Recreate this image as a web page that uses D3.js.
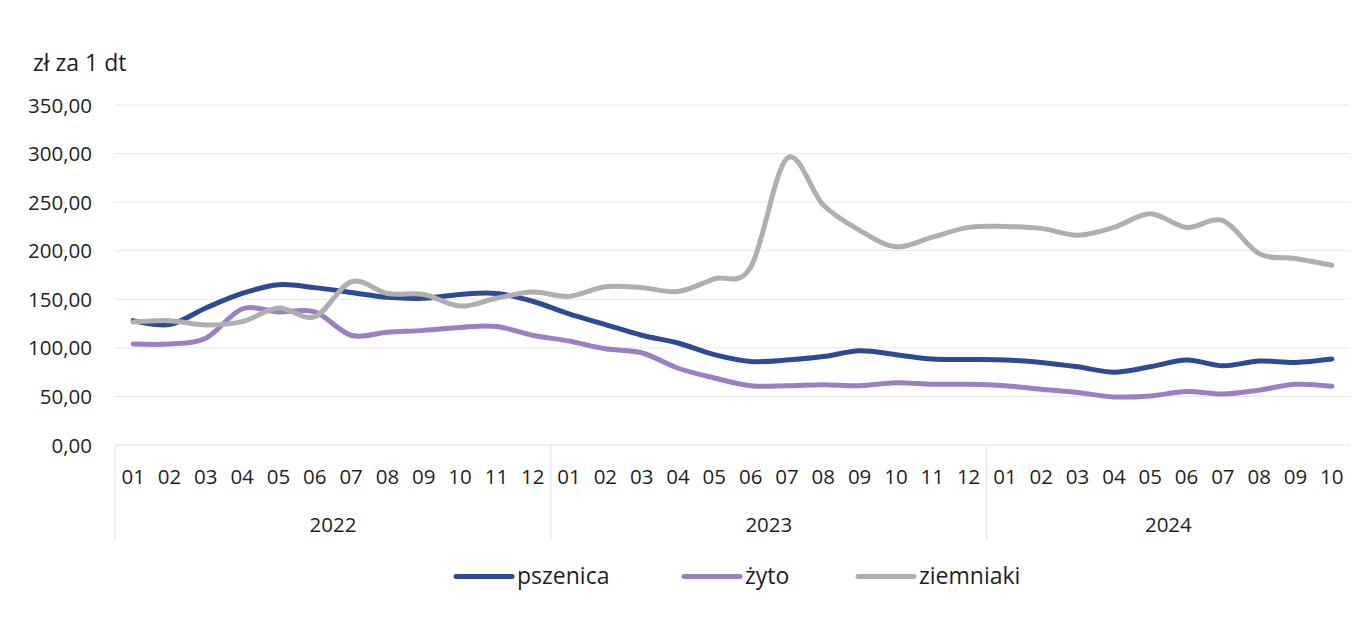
<!DOCTYPE html>
<html><head><meta charset="utf-8">
<script src="https://cdn.jsdelivr.net/npm/d3@7"></script>
<style>body{margin:0;background:#fff;}svg{display:block;font-family:"Open Sans",sans-serif;}</style>
</head><body>
<svg id="c" width="1357" height="626"></svg>
<script>
const months = ["01","02","03","04","05","06","07","08","09","10","11","12",
                "01","02","03","04","05","06","07","08","09","10","11","12",
                "01","02","03","04","05","06","07","08","09","10"];
const years = ["2022","2023","2024"];
const yearCounts = [12,12,10];
const yTicks = [0,50,100,150,200,250,300,350];
const pszenica = [128,124,141,156,165,162,157,152,151,155,156,148,
                  135,124,113,105,93,86,87.5,91,97,93,88.5,88,
                  87.5,85,80.5,75,80.5,87.5,81.5,86.5,85,88.5];
const zyto = [104,104,110,140,137,137,113,116,118,121,122,113,
              107,99,95,79,69,61,61,62,61,64,62.5,62.5,
              61,57.5,54,49.5,50.5,55,52.5,56.5,62.5,60.5];
const ziemniaki = [126.5,128,123.5,127,141,132,168,156,155,143,151,157.5,
                   153,163,162,158,171,183,295,247,221,204,214,224,
                   225,223,216,224,238,224,231,197,192,185];
const seriesNames = ["pszenica","żyto","ziemniaki"];
const colors = ["#2F4A94","#9B7EC4","#AFAFAF"];

(function(){
const svg = d3.select("#c");
const pL=115, pR=1350, pT=105, pB=445;
const idx = d3.range(months.length);
const x = d3.scaleBand().domain(idx).range([pL,pR]);
const y = d3.scaleLinear().domain([0,350]).range([pB,pT]);
const fmt = v => d3.format(".2f")(v).replace(".",",");
const tc = "#1f1f1f";

svg.append("g").selectAll("line").data(yTicks.filter(d=>d>0)).join("line")
  .attr("x1",pL).attr("x2",pR).attr("y1",d=>y(d)).attr("y2",d=>y(d))
  .attr("stroke","#e8e8e8").attr("stroke-width",1);
svg.append("g").selectAll("text").data(yTicks).join("text")
  .attr("x",92).attr("y",d=>y(d)+7.5).attr("text-anchor","end")
  .attr("font-size",20.5).attr("fill",tc).text(fmt);
svg.append("text").attr("x",33).attr("y",71).attr("font-size",23).attr("fill",tc).text("zł za 1 dt");

svg.append("line").attr("x1",pL).attr("x2",pR).attr("y1",pB).attr("y2",pB)
  .attr("stroke","#e0e0e0");
svg.append("g").selectAll("text").data(idx).join("text")
  .attr("x",d=>x(d)+x.bandwidth()/2).attr("y",483.5).attr("text-anchor","middle")
  .attr("font-size",20.5).attr("fill",tc).text(d=>months[d]);
let start=0;
years.forEach((yr,i)=>{
  const x0 = x(start), x1 = start+yearCounts[i] < months.length ? x(start+yearCounts[i]) : pR;
  svg.append("line").attr("x1",x0).attr("x2",x0).attr("y1",pB).attr("y2",540)
    .attr("stroke","#e0e0e0");
  svg.append("text").attr("x",(x0+x1)/2).attr("y",532).attr("text-anchor","middle")
    .attr("font-size",20.5).attr("fill",tc).text(yr);
  start += yearCounts[i];
});

const line = d3.line().x((d,i)=>x(i)+x.bandwidth()/2).y(d=>y(d)).curve(d3.curveCardinal.tension(0));
[pszenica,zyto,ziemniaki].forEach((s,k)=>{
  svg.append("path").datum(s).attr("d",line).attr("fill","none")
    .attr("stroke",colors[k]).attr("stroke-width",5).attr("stroke-linecap","round").attr("stroke-linejoin","round");
});

const legX = [456,684,858];
seriesNames.forEach((n,k)=>{
  svg.append("line").attr("x1",legX[k]).attr("x2",legX[k]+56).attr("y1",576.5).attr("y2",576.5)
    .attr("stroke",colors[k]).attr("stroke-width",5).attr("stroke-linecap","round");
  svg.append("text").attr("x",legX[k]+61).attr("y",584).attr("font-size",23).attr("fill",tc).text(n);
});
})();
</script>
</body></html>
